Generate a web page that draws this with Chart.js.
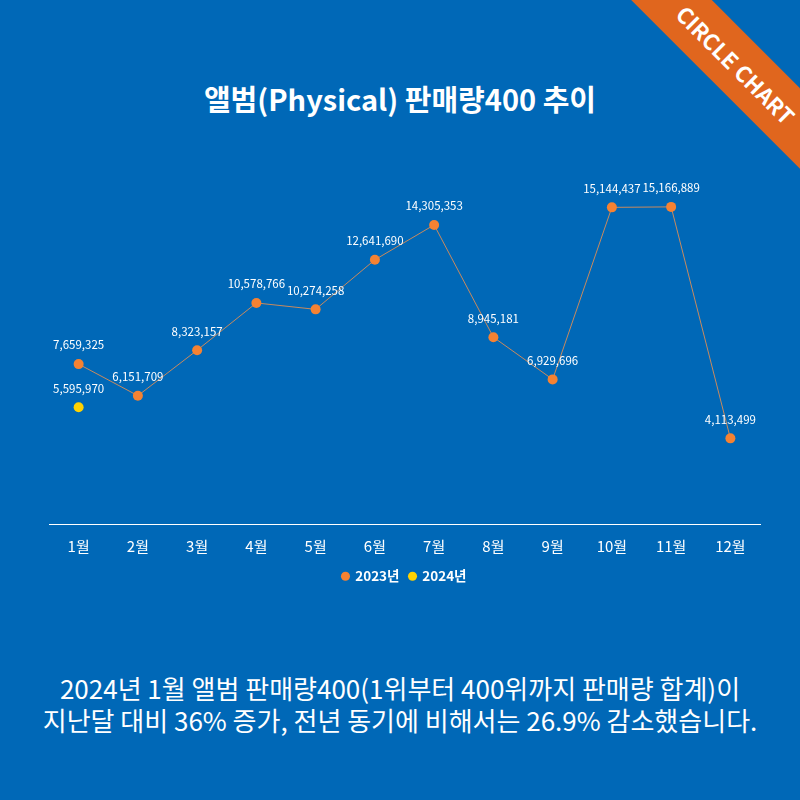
<!DOCTYPE html>
<html>
<head>
<meta charset="utf-8">
<script src="https://cdn.jsdelivr.net/npm/chart.js@4"></script>
<style>
  html, body { margin: 0; padding: 0; }
  body { width: 800px; height: 800px; background: #0068b7; position: relative; overflow: hidden;
         font-family: "Noto Sans CJK KR", "Noto Sans", sans-serif; color: #fff; }
  #title { position: absolute; top: 76px; left: 0; width: 800px; text-align: center;
           font-size: 29px; font-weight: bold; line-height: 44px; }
  #ribbon { position: absolute; left: 606px; top: 36px; width: 260px; height: 57px; background: #e0661e;
            transform: rotate(45deg); text-align: center; line-height: 57px;
            font-size: 22px; font-weight: bold; }
  #wrap { position: absolute; left: 0; top: 150px; width: 800px; height: 443px; }
  #note { position: absolute; top: 672px; left: 0; width: 800px; text-align: center;
          font-size: 26px; line-height: 32px; }
</style>
</head>
<body>
<div id="title">앨범(Physical) 판매량400 추이</div>
<div id="ribbon">CIRCLE CHART</div>
<div id="wrap"><canvas id="lineChart"></canvas></div>
<div id="note">2024년 1월 앨범 판매량400(1위부터 400위까지 판매량 합계)이<br>지난달 대비 36% 증가, 전년 동기에 비해서는 26.9% 감소했습니다.</div>
<script>
// 월 라벨
const months = ['1월', '2월', '3월', '4월', '5월', '6월', '7월', '8월', '9월', '10월', '11월', '12월'];
// 2023년 판매량
const sales2023 = [7659325, 6151709, 8323157, 10578766, 10274258, 12641690, 14305353, 8945181, 6929696, 15144437, 15166889, 4113499];
// 2024년 판매량 (1월만)
const sales2024 = [5595970, null, null, null, null, null, null, null, null, null, null, null];

// 점 위에 숫자 표시
const valueLabels = {
    id: 'valueLabels',
    afterDatasetsDraw(chart) {
        const ctx = chart.ctx;
        ctx.save();
        ctx.font = '11.5px "Noto Sans CJK KR", sans-serif';
        ctx.fillStyle = '#ffffff';
        ctx.textAlign = 'center';
        ctx.textBaseline = 'middle';
        chart.data.datasets.forEach((ds, i) => {
            chart.getDatasetMeta(i).data.forEach((pt, j) => {
                const v = ds.data[j];
                if (v == null) return;
                ctx.fillText(v.toLocaleString('en-US'), pt.x, pt.y - 19);
            });
        });
        ctx.restore();
    }
};

new Chart(document.getElementById('lineChart'), {
    type: 'line',
    data: {
        labels: months,
        datasets: [
            {
                label: '2023년',
                data: sales2023,
                borderColor: '#c88a5e',
                borderWidth: 1,
                backgroundColor: '#f58232',
                pointBackgroundColor: '#f58232',
                pointBorderWidth: 0,
                pointRadius: 5,
                tension: 0
            },
            {
                label: '2024년',
                data: sales2024,
                borderColor: '#ffd200',
                backgroundColor: '#ffd200',
                pointBackgroundColor: '#ffd200',
                pointBorderWidth: 0,
                pointRadius: 5,
                showLine: false
            }
        ]
    },
    options: {
        responsive: true,
        maintainAspectRatio: false,
        animation: false,
        layout: { padding: { left: 49, right: 40, top: 18.5, bottom: 0 } },
        scales: {
            x: {
                offset: true,
                grid: { display: false },
                border: { color: '#ffffff', width: 1 },
                ticks: { color: '#ffffff', font: { size: 15, family: '"Noto Sans CJK KR"', lineHeight: 1.0 }, padding: 6 }
            },
            y: { display: false, min: 0, max: 17000000 }
        },
        plugins: {
            legend: {
                position: 'bottom',
                labels: {
                    color: '#ffffff',
                    usePointStyle: true,
                    pointStyle: 'circle',
                    boxWidth: 6,
                    boxHeight: 6.4,
                    padding: 10,
                    font: { size: 13.5, weight: 'bold', family: '"Noto Sans CJK KR"' }
                }
            },
            tooltip: { enabled: false }
        }
    },
    plugins: [valueLabels]
});
</script>
</body>
</html>
